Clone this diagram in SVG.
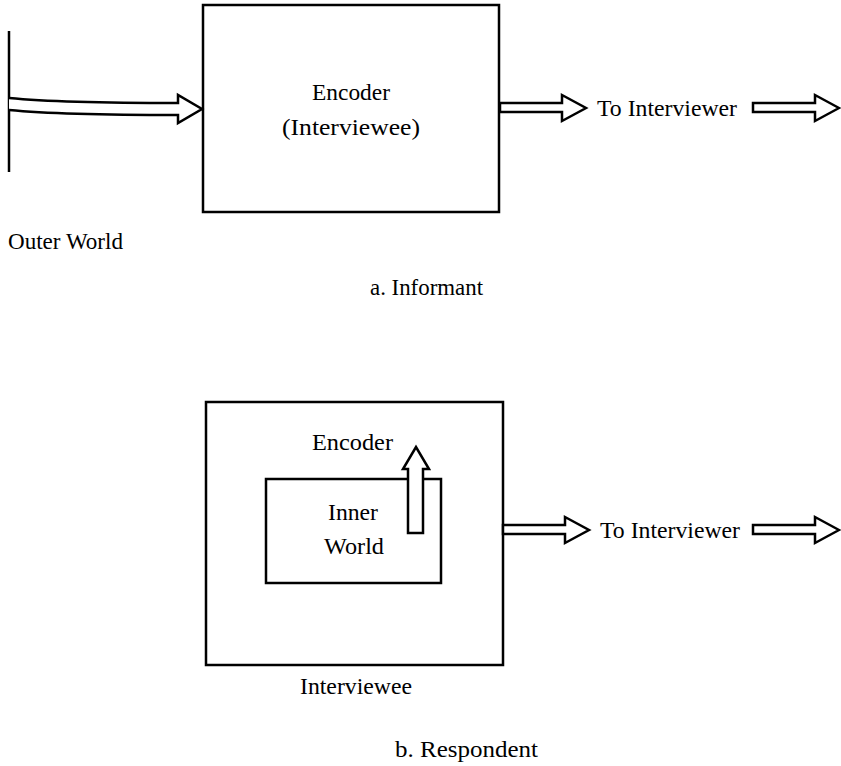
<svg xmlns="http://www.w3.org/2000/svg" width="841" height="766" viewBox="0 0 841 766">
<style>
.box{fill:none;stroke:#000;stroke-width:2.5}
.arr{fill:#fff;stroke:#000;stroke-width:2.5;stroke-linejoin:miter}
.ln{stroke:#000;stroke-width:2.5;fill:none}
text{font-family:"Liberation Serif","Times New Roman",serif;font-size:23px;fill:#000}
</style>
<rect width="841" height="766" fill="#fff"/>
<g id="outer-world">
<line class="ln" x1="9" y1="31" x2="9" y2="172"/>
<text x="8" y="249" textLength="115" lengthAdjust="spacingAndGlyphs">Outer World</text>
</g>
<g id="encoder-a">
<rect class="box" x="203" y="5" width="296" height="207"/>
<text x="312" y="100" textLength="78" lengthAdjust="spacingAndGlyphs">Encoder</text>
<text x="282" y="135" textLength="138" lengthAdjust="spacingAndGlyphs">(Interviewee)</text>
</g>
<g id="to-interviewer-a">
<text x="597" y="116" textLength="140" lengthAdjust="spacingAndGlyphs">To Interviewer</text>
</g>
<g id="caption-a"><text x="370" y="295" textLength="113" lengthAdjust="spacingAndGlyphs">a.  Informant</text></g>
<g id="interviewee-b">
<rect class="box" x="206" y="402" width="297" height="263"/>
<text x="300" y="694" textLength="112" lengthAdjust="spacingAndGlyphs">Interviewee</text>
</g>
<g id="encoder-b"><text x="312" y="450" textLength="81" lengthAdjust="spacingAndGlyphs">Encoder</text></g>
<g id="inner-world">
<rect class="box" x="266" y="479" width="175" height="104"/>
<text x="328" y="520" textLength="50" lengthAdjust="spacingAndGlyphs">Inner</text>
<text x="324" y="554" textLength="60" lengthAdjust="spacingAndGlyphs">World</text>
</g>
<g id="to-interviewer-b">
<text x="600" y="538" textLength="140" lengthAdjust="spacingAndGlyphs">To Interviewer</text>
</g>
<g id="caption-b"><text x="395" y="757" textLength="143" lengthAdjust="spacingAndGlyphs">b.  Respondent</text></g>
<g id="connectors">
<path class="arr" d="M9,98 C40,101 80,103 178,103 L178,95 L202,109 L178,123 L178,115 C80,115 40,113 9,110"/>
<polygon class="arr" points="500,103 562,103 562,95 586,108 562,121 562,112 500,112"/>
<polygon class="arr" points="753,103 815,103 815,95 839,108 815,121 815,112 753,112"/>
<polygon class="arr" points="503,525 565,525 565,517 589,530 565,543 565,534 503,534"/>
<polygon class="arr" points="753,525 815,525 815,517 839,530 815,543 815,534 753,534"/>
<polygon class="arr" points="408,533 408,469 403,469 416,447 429,469 423,469 423,533"/>
</g>
</svg>
